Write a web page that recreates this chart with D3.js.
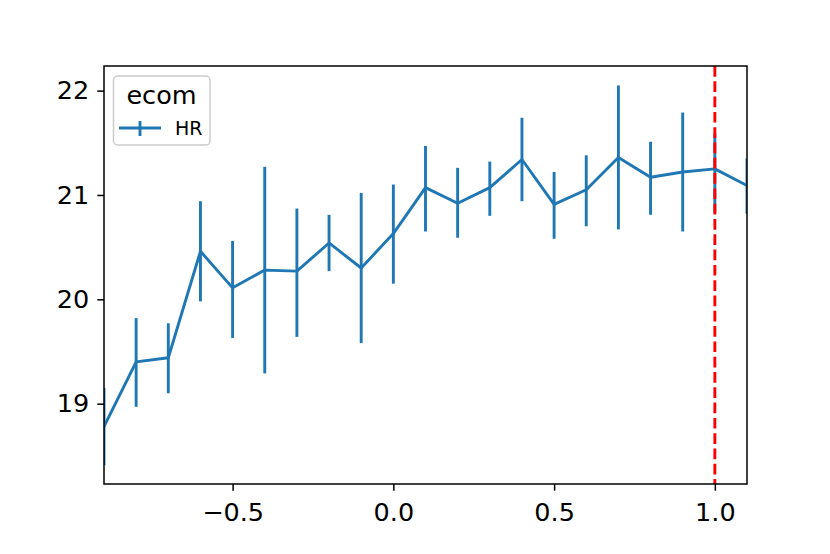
<!DOCTYPE html>
<html>
<head>
<meta charset="utf-8">
<script src="https://cdn.jsdelivr.net/npm/d3@7"></script>
<style>
  body { margin: 0; background: #fff; }
  svg { display: block; font-family: "DejaVu Sans", sans-serif; }
</style>
</head>
<body>
<svg id="chart" width="830" height="554"></svg>
<script>
const xs = [-0.9, -0.8, -0.7, -0.6, -0.5, -0.4, -0.3, -0.2, -0.1, 0.0, 0.1, 0.2, 0.3, 0.4, 0.5, 0.6, 0.7, 0.8, 0.9, 1.0, 1.1];
const means = [18.78, 19.40, 19.44, 20.46, 20.11, 20.28, 20.27, 20.54, 20.30, 20.63, 21.07, 20.92, 21.07, 21.34, 20.91, 21.05, 21.36, 21.17, 21.22, 21.25, 21.09];
const upper = [19.15, 19.82, 19.77, 20.94, 20.56, 21.27, 20.87, 20.81, 21.02, 21.10, 21.47, 21.26, 21.32, 21.74, 21.22, 21.38, 22.05, 21.51, 21.79, 21.59, 21.35];
const lower = [18.41, 18.97, 19.10, 19.98, 19.63, 19.29, 19.64, 20.27, 19.58, 20.15, 20.65, 20.59, 20.80, 20.94, 20.58, 20.70, 20.67, 20.81, 20.65, 20.83, 20.82];
const xTicks = [-0.5, 0.0, 0.5, 1.0];
const yTicks = [19, 20, 21, 22];
const vlineX = 1.0;
const legendTitle = "ecom";
const seriesName = "HR";

const svg = d3.select("#chart");
const L = 104, R = 747, T = 66, B = 484;
const x = d3.scaleLinear().domain([-0.9, 1.1]).range([L, R]);
const y = d3.scaleLinear().domain([18.23, 22.236]).range([B, T]);
const blue = "#1f77b4";
const tickFont = 25.5;

svg.append("defs").append("clipPath").attr("id", "clip")
  .append("rect").attr("x", L).attr("y", T).attr("width", R - L).attr("height", B - T);

const plot = svg.append("g").attr("clip-path", "url(#clip)");
const data = xs.map((v, i) => ({x: v, m: means[i], lo: lower[i], hi: upper[i]}));

plot.selectAll("line.err").data(data).enter().append("line")
  .attr("class", "err")
  .attr("x1", d => x(d.x)).attr("x2", d => x(d.x))
  .attr("y1", d => y(d.lo)).attr("y2", d => y(d.hi))
  .attr("stroke", blue).attr("stroke-width", 2.9);

plot.append("path").datum(data)
  .attr("d", d3.line().x(d => x(d.x)).y(d => y(d.m)))
  .attr("fill", "none").attr("stroke", blue).attr("stroke-width", 2.9)
  .attr("stroke-linejoin", "round");

plot.append("line")
  .attr("x1", x(vlineX)).attr("x2", x(vlineX)).attr("y1", T).attr("y2", B)
  .attr("stroke", "red").attr("stroke-width", 2.9)
  .attr("stroke-dasharray", "10.7,4.6");

// axes
const xAxis = d3.axisBottom(x).tickValues(xTicks)
  .tickFormat(d => d3.format(".1f")(d).replace("-", "\u2212"))
  .tickSizeInner(6.7).tickSizeOuter(0).tickPadding(12);
const yAxis = d3.axisLeft(y).tickValues(yTicks).tickFormat(d3.format("d"))
  .tickSizeInner(6.7).tickSizeOuter(0).tickPadding(8);

const gx = svg.append("g").attr("transform", `translate(0,${B})`).call(xAxis);
const gy = svg.append("g").attr("transform", `translate(${L},0)`).call(yAxis);
[gx, gy].forEach(g => {
  g.select(".domain").remove();
  g.selectAll(".tick line").attr("stroke", "#000").attr("stroke-width", 1.5);
  g.selectAll(".tick text").attr("fill", "#000").attr("font-size", tickFont)
    .attr("font-family", "DejaVu Sans");
});

svg.append("rect").attr("x", L).attr("y", T).attr("width", R - L).attr("height", B - T)
  .attr("fill", "none").attr("stroke", "#000").attr("stroke-width", 1.5);

// legend
const lg = svg.append("g");
lg.append("rect").attr("x", 113.5).attr("y", 76).attr("width", 96.5).attr("height", 69)
  .attr("rx", 4).attr("fill", "#fff").attr("fill-opacity", 0.8)
  .attr("stroke", "#cccccc").attr("stroke-width", 1.5);
lg.append("text").attr("x", 161.5).attr("y", 104).attr("text-anchor", "middle")
  .attr("font-size", tickFont).attr("fill", "#000").text(legendTitle);
lg.append("line").attr("x1", 119).attr("x2", 161).attr("y1", 128).attr("y2", 128)
  .attr("stroke", blue).attr("stroke-width", 2.9);
lg.append("line").attr("x1", 140).attr("x2", 140).attr("y1", 121).attr("y2", 136)
  .attr("stroke", blue).attr("stroke-width", 2.9);
lg.append("text").attr("x", 175).attr("y", 135)
  .attr("font-size", 19).attr("fill", "#000").text(seriesName);
</script>
</body>
</html>
